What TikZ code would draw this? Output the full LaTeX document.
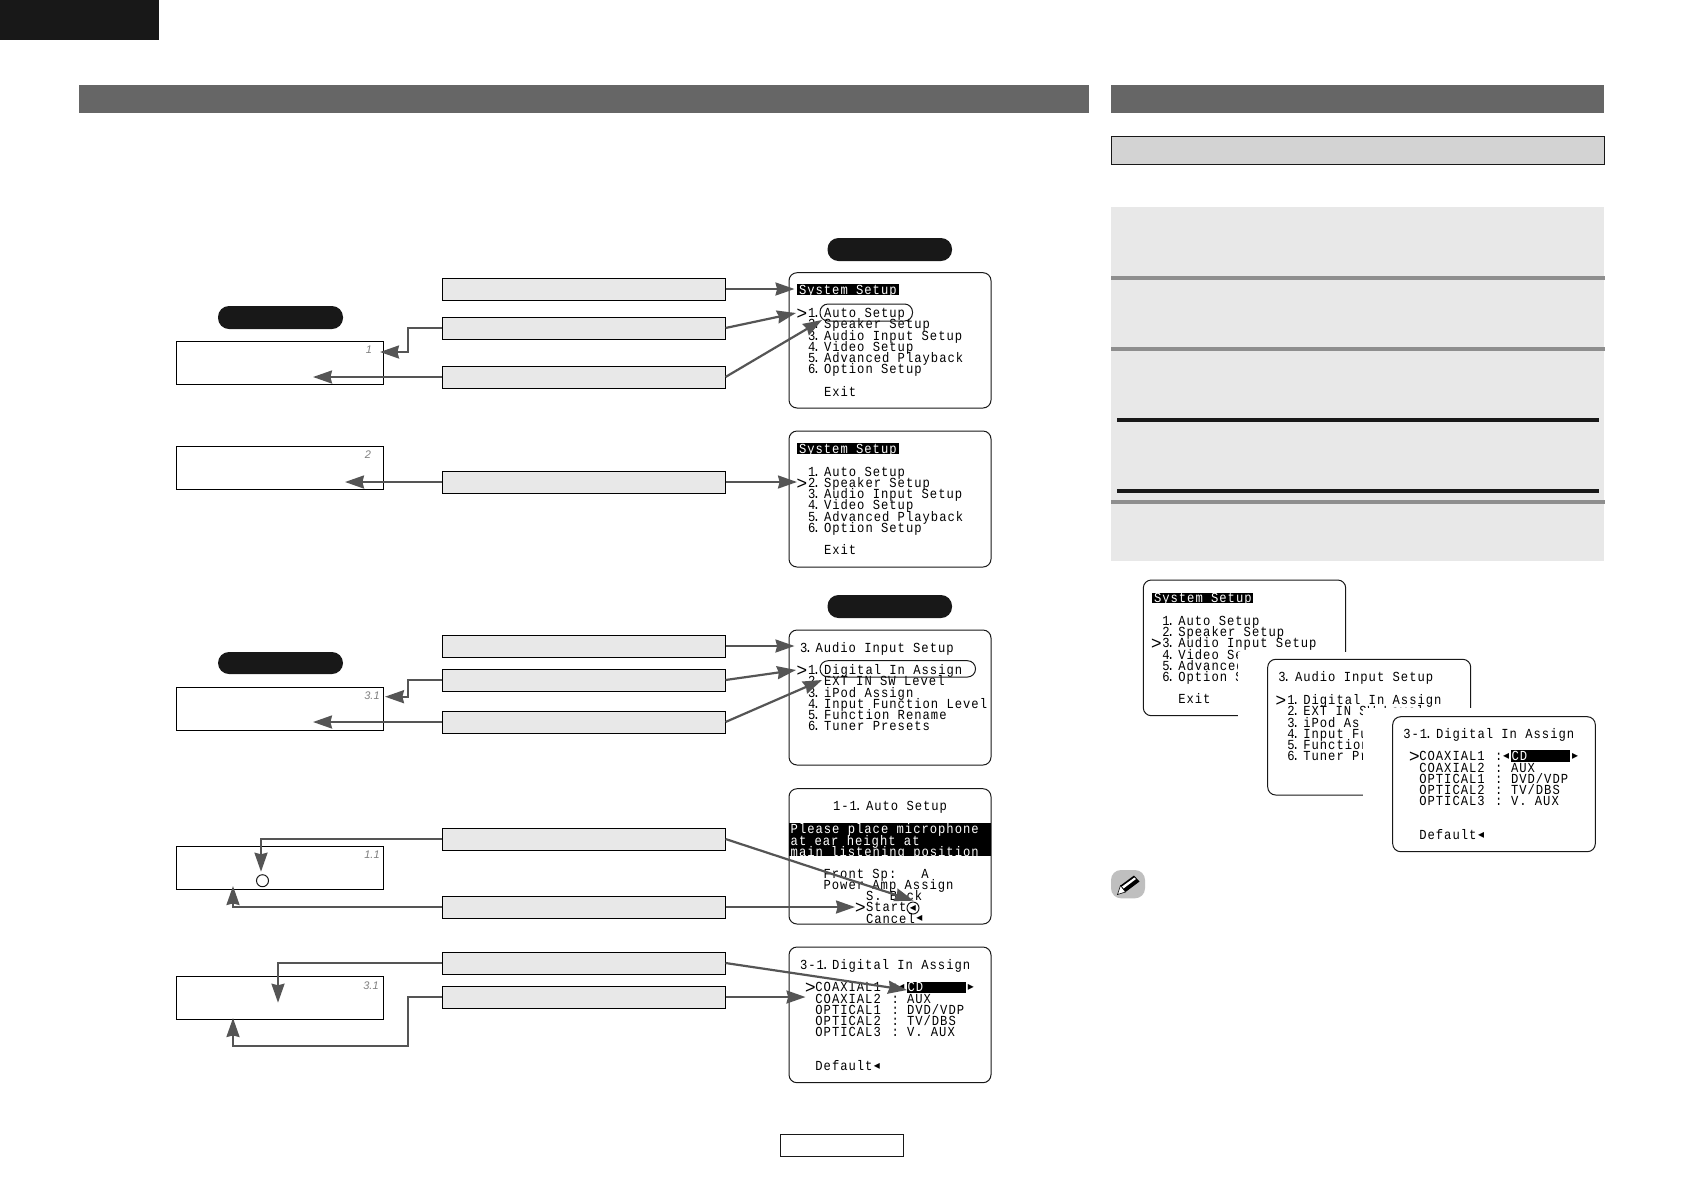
\documentclass[tikz,border=0pt]{standalone}
\usepackage{fontspec}
\usetikzlibrary{arrows.meta}
\newfontfamily\scrfont[FakeStretch=0.88,LetterSpace=7.2]{Liberation Mono}
\newfontfamily\lcdfont{Liberation Sans}
\newfontfamily\symfont{DejaVu Sans}
\definecolor{bar}{HTML}{666666}
\definecolor{pale}{HTML}{E8E8E8}
\definecolor{midgrey}{HTML}{D3D3D3}
\definecolor{ink}{HTML}{181818}
\definecolor{rule}{HTML}{8E8E8E}
\definecolor{arrowc}{HTML}{555555}
\newcommand\bx[6]{%
  \pgfmathsetmacro\bxx{(#3+#5)/2}\pgfmathsetmacro\bxy{(#4+#6)/2}%
  \pgfmathsetmacro\bxw{(#5-#3)*0.5}\pgfmathsetmacro\bxh{(#6-#4)*0.5}%
  \node[#1,minimum width=\bxw pt,minimum height=\bxh pt] (#2) at (\bxx,\bxy) {};}
\newcommand\ml[4]{\node[scr] (#1) at (#2,#3) {#4};}
\newcommand\mlw[4]{\node[scr,text=white] (#1) at (#2,#3) {#4};}
\newcommand\chev[3]{\node[chevron] (#1) at (#2,#3) {>};}
\newcommand\lf[3]{\node[tri] (#1) at (#2,#3) {◂};}
\newcommand\rt[3]{\node[tri] (#1) at (#2,#3) {▸};}
\newcommand\dt{\kern-1.2pt.}
\tikzset{
  plain/.style={rectangle,inner sep=0,outer sep=0},
  sbar/.style={plain,fill=bar},
  ruleb/.style={plain,fill=rule},
  inkb/.style={plain,fill=ink},
  blk/.style={plain,fill=black},
  panel/.style={plain,fill=pale},
  head/.style={plain,fill=midgrey,draw=ink,line width=0.5pt},
  keyb/.style={plain,fill=pale,draw=black,line width=0.5pt},
  lcd/.style={plain,fill=white,draw=black,line width=0.5pt},
  pill/.style={plain,fill=ink,rounded corners=5.5pt},
  screen/.style={plain,fill=white,draw=ink,line width=0.5pt,rounded corners=4pt},
  mask/.style={plain,fill=white},
  hoop/.style={plain,draw=ink,line width=0.5pt,rounded corners=4pt},
  pagebox/.style={plain,fill=white,draw=ink,line width=0.5pt},
  scr/.style={inner sep=0,outer sep=0,anchor=base west,yshift=-2.25pt,font=\scrfont\fontsize{6.92}{7}\selectfont,text=black},
  chevron/.style={inner sep=0,outer sep=0,anchor=base west,yshift=-3pt,font=\lcdfont\fontsize{9}{9}\selectfont,text=black},
  tri/.style={inner sep=0,outer sep=0,anchor=center,font=\symfont\fontsize{6}{6}\selectfont,text=black},
  digit/.style={inner sep=0,outer sep=0,anchor=center,font=\lcdfont\itshape\fontsize{5.5}{6}\selectfont,text=black!50},
  arr/.style={draw=arrowc,line width=1.1pt,-{Stealth[length=9.5pt,width=6.5pt,inset=0.8pt]}},
  hole/.style={draw=ink,line width=0.5pt,fill=white,circle,inner sep=0,outer sep=0,minimum size=6pt},
}
\begin{document}
\begin{tikzpicture}[x=0.5pt,y=-0.5pt]
\useasboundingbox (0,0) rectangle (1682,1190);
\fill[white] (0,0) rectangle (1682,1190);
% page furniture
\bx{inkb}{corner}{0}{0}{159}{40}
\bx{sbar}{barL}{79}{85}{1089}{113}
\bx{sbar}{barR}{1111}{85}{1604}{113}
\bx{head}{headR}{1111.5}{136}{1604.5}{164}
\bx{panel}{panelR}{1111}{207}{1604}{561}
\bx{ruleb}{r1}{1111}{276}{1605}{280}
\bx{ruleb}{r2}{1111}{347}{1605}{351}
\bx{inkb}{r3}{1117}{418}{1599}{422}
\bx{inkb}{r4}{1117}{489}{1599}{493}
\bx{ruleb}{r5}{1111}{500}{1605}{504}
\bx{pagebox}{pageno}{780.5}{1134.5}{903}{1156}
% pills
\bx{pill}{pillA}{827.5}{238}{952}{261}
\bx{pill}{pillB}{218}{306}{343}{329}
\bx{pill}{pillC}{827.5}{595}{952}{618}
\bx{pill}{pillD}{218}{652}{343}{674}
% LCD windows
\bx{lcd}{lcdA}{176.5}{341.5}{383.5}{384}
\bx{lcd}{lcdB}{176.5}{446.5}{383.5}{489}
\bx{lcd}{lcdC}{176.5}{687.5}{383.5}{730}
\bx{lcd}{lcdD}{176.5}{846.5}{383.5}{889}
\bx{lcd}{lcdE}{176.5}{976.5}{383.5}{1019}
\node[digit] (dA) at (369,350) {1};
\node[digit] (dB) at (368,455) {2};
\node[digit] (dC) at (372,696) {3.1};
\node[digit] (dD) at (372,855) {1.1};
\node[digit] (dE) at (371,986) {3.1};
\node[hole] (hole) at (262.5,880.7) {};
% key boxes
\bx{keyb}{k1}{442}{278}{725.5}{300}
\bx{keyb}{k2}{442}{317}{725.5}{339}
\bx{keyb}{k3}{442}{366}{725.5}{388}
\bx{keyb}{k4}{442}{471}{725.5}{493}
\bx{keyb}{k5}{442}{635}{725.5}{657}
\bx{keyb}{k6}{442}{669}{725.5}{691}
\bx{keyb}{k7}{442}{711}{725.5}{733}
\bx{keyb}{k8}{442}{828}{725.5}{850}
\bx{keyb}{k9}{442}{896}{725.5}{918}
\bx{keyb}{k10}{442}{952}{725.5}{974}
\bx{keyb}{k11}{442}{986}{725.5}{1008}
% screen A
\bx{screen}{sA}{789}{272.7}{991}{408}
\bx{blk}{tA}{797}{284}{899}{295}
\mlw{a0}{799}{290}{System Setup}
\chev{ac}{796.5}{313}
\ml{a1n}{808}{313}{1\dt}\ml{a1}{824}{313}{Auto Setup}
\ml{a2n}{808}{324}{2\dt}\ml{a2}{824}{324}{Speaker Setup}
\ml{a3n}{808}{336}{3\dt}\ml{a3}{824}{336}{Audio Input Setup}
\ml{a4n}{808}{347}{4\dt}\ml{a4}{824}{347}{Video Setup}
\ml{a5n}{808}{358}{5\dt}\ml{a5}{824}{358}{Advanced Playback}
\ml{a6n}{808}{369}{6\dt}\ml{a6}{824}{369}{Option Setup}
\ml{a7}{824}{392}{Exit}
\bx{hoop}{hA}{820}{304}{912.5}{321}
% screen B
\bx{screen}{sB}{789}{431}{991}{567}
\bx{blk}{tB}{797}{443}{899}{454}
\mlw{b0}{799}{449}{System Setup}
\chev{bc}{796.5}{483}
\ml{b1n}{808}{471.7}{1\dt}\ml{b1}{824}{471.7}{Auto Setup}
\ml{b2n}{808}{483}{2\dt}\ml{b2}{824}{483}{Speaker Setup}
\ml{b3n}{808}{494.3}{3\dt}\ml{b3}{824}{494.3}{Audio Input Setup}
\ml{b4n}{808}{505.3}{4\dt}\ml{b4}{824}{505.3}{Video Setup}
\ml{b5n}{808}{516.7}{5\dt}\ml{b5}{824}{516.7}{Advanced Playback}
\ml{b6n}{808}{528}{6\dt}\ml{b6}{824}{528}{Option Setup}
\ml{b7}{824}{550.3}{Exit}
% screen C
\bx{screen}{sC}{789}{630}{991}{765}
\ml{c0n}{800}{648}{3\dt}\ml{c0}{815.5}{648}{Audio Input Setup}
\chev{cc}{796.5}{670}
\ml{c1n}{808}{670}{1\dt}\ml{c1}{824}{670}{Digital In Assign}
\ml{c2n}{808}{681}{2\dt}\ml{c2}{824}{681}{EXT IN SW Level}
\ml{c3n}{808}{693}{3\dt}\ml{c3}{824}{693}{iPod Assign}
\ml{c4n}{808}{704}{4\dt}\ml{c4}{824}{704}{Input Function Level}
\ml{c5n}{808}{715}{5\dt}\ml{c5}{824}{715}{Function Rename}
\ml{c6n}{808}{726}{6\dt}\ml{c6}{824}{726}{Tuner Presets}
\bx{hoop}{hC}{820}{660.7}{975.5}{677}
% screen D
\bx{screen}{sD}{789}{788.7}{991}{924}
\ml{d0n}{833}{806}{1-1\dt}\ml{d0}{866}{806}{Auto Setup}
\bx{blk}{tD}{789}{823}{991}{855.7}
\mlw{d1}{790.7}{829}{Please place microphone}
\mlw{d2}{790.7}{841}{at ear height at}
\mlw{d3}{790.7}{852}{main listening position}
\ml{d4}{823.6}{874}{Front Sp:\ \ \ A}
\ml{d5}{823.6}{885.3}{Power Amp Assign}
\ml{d6}{866}{896.3}{S. Back}
\chev{dc}{855}{907.3}
\ml{d7}{866}{907.3}{Start}
\lf{dl1}{913}{908}
\node[draw=ink,line width=0.5pt,circle,inner sep=0,outer sep=0,minimum size=6pt] (dring) at (913,908) {};
\ml{d8}{866}{918.7}{Cancel}
\lf{dl2}{919.5}{918.7}
% screen E
\bx{screen}{sE}{789}{947}{991}{1082.7}
\ml{e0n}{800}{965.3}{3-1\dt}\ml{e0}{832}{965.3}{Digital In Assign}
\chev{ec}{805}{987.3}
\ml{e1}{815.4}{987.3}{COAXIAL1}\ml{e1c}{891.5}{987.3}{:}
\lf{el}{901.5}{987.3}
\bx{blk}{eb}{907}{981.7}{966}{992.7}
\mlw{e1v}{907.5}{987.3}{CD}
\rt{er}{971}{987.3}
\ml{e2}{815.4}{998.7}{COAXIAL2}\ml{e2c}{891.5}{998.7}{:}\ml{e2v}{907}{998.7}{AUX}
\ml{e3}{815.4}{1010}{OPTICAL1}\ml{e3c}{891.5}{1010}{:}\ml{e3v}{907}{1010}{DVD/VDP}
\ml{e4}{815.4}{1021}{OPTICAL2}\ml{e4c}{891.5}{1021}{:}\ml{e4v}{907}{1021}{TV/DBS}
\ml{e5}{815.4}{1032.3}{OPTICAL3}\ml{e5c}{891.5}{1032.3}{:}\ml{e5v}{907}{1032.3}{V. AUX}
\ml{e6}{815.4}{1066}{Default}
\lf{el2}{877}{1066}
% right column stack: screen F
\bx{screen}{sF}{1143.3}{580}{1345.7}{715.7}
\bx{blk}{tF}{1152.3}{592.7}{1252.7}{603}
\mlw{f0}{1154}{598}{System Setup}
\chev{fc}{1151}{643.3}
\ml{f1n}{1162.3}{620.7}{1\dt}\ml{f1}{1178.3}{620.7}{Auto Setup}
\ml{f2n}{1162.3}{632}{2\dt}\ml{f2}{1178.3}{632}{Speaker Setup}
\ml{f3n}{1162.3}{643.3}{3\dt}\ml{f3}{1178.3}{643.3}{Audio Input Setup}
\ml{f4n}{1162.3}{654.7}{4\dt}\ml{f4}{1178.3}{654.7}{Video Se}
\ml{f5n}{1162.3}{666}{5\dt}\ml{f5}{1178.3}{666}{Advanced}
\ml{f6n}{1162.3}{677}{6\dt}\ml{f6}{1178.3}{677}{Option Se}
\ml{f7}{1178.3}{699.3}{Exit}
\bx{mask}{maskF}{1238.3}{651.7}{1480}{810}
% screen G
\bx{screen}{sG}{1267.7}{659.3}{1470.7}{795}
\ml{g0n}{1278.3}{677.3}{3\dt}\ml{g0}{1295}{677.3}{Audio Input Setup}
\chev{gc}{1275.5}{700}
\ml{g1n}{1287.3}{700}{1\dt}\ml{g1}{1303.3}{700}{Digital In Assign}
\ml{g2n}{1287.3}{711.3}{2\dt}\ml{g2}{1303.3}{711.3}{EXT IN SW Level}
\ml{g3n}{1287.3}{722.7}{3\dt}\ml{g3}{1303.3}{722.7}{iPod As}
\ml{g4n}{1287.3}{733.7}{4\dt}\ml{g4}{1303.3}{733.7}{Input Fu}
\ml{g5n}{1287.3}{745}{5\dt}\ml{g5}{1303.3}{745}{Function}
\ml{g6n}{1287.3}{756}{6\dt}\ml{g6}{1303.3}{756}{Tuner Pr}
\bx{mask}{maskG}{1363.3}{708.3}{1600}{860}
% screen H
\bx{screen}{sH}{1392.7}{716.7}{1595.3}{851.7}
\ml{h0n}{1403.3}{734}{3-1\dt}\ml{h0}{1436}{734}{Digital In Assign}
\chev{hc}{1409}{756}
\ml{h1}{1419.3}{756}{COAXIAL1}\ml{h1c}{1495}{756}{:}
\lf{hl}{1506}{756}
\bx{blk}{hb}{1511}{750.3}{1570}{762}
\mlw{h1v}{1511.5}{756}{CD}
\rt{hr}{1575}{756}
\ml{h2}{1419.3}{767.7}{COAXIAL2}\ml{h2c}{1495}{767.7}{:}\ml{h2v}{1511}{767.7}{AUX}
\ml{h3}{1419.3}{779}{OPTICAL1}\ml{h3c}{1495}{779}{:}\ml{h3v}{1511}{779}{DVD/VDP}
\ml{h4}{1419.3}{790}{OPTICAL2}\ml{h4c}{1495}{790}{:}\ml{h4v}{1511}{790}{TV/DBS}
\ml{h5}{1419.3}{801.3}{OPTICAL3}\ml{h5c}{1495}{801.3}{:}\ml{h5v}{1511}{801.3}{V. AUX}
\ml{h6}{1419.3}{835}{Default}
\lf{hl2}{1481}{835}
% pencil icon
\bx{plain,fill=black!25,rounded corners=5pt}{note}{1111}{870}{1145}{898.3}
\fill[black] (1120.5,885.5) -- (1134,875.5) -- (1139.5,881.5) -- (1125.5,892) -- cycle;
\fill[white] (1122,886.5) -- (1134.5,877.5) -- (1136,879) -- (1123.5,888.5) -- cycle;
\fill[white,draw=black,line width=0.3pt] (1120.5,885.5) -- (1125.5,892) -- (1117.5,894.5) -- cycle;
% arrow ends
\coordinate (t1) at (794.5,289);
\coordinate (t2) at (796,313);
\coordinate (t3) at (822,320);
\coordinate (u2) at (408,352);
\coordinate (u2t) at (380,352);
\coordinate (u3t) at (313,377);
\coordinate (t4) at (797,482);
\coordinate (u4t) at (345,482);
\coordinate (t5) at (794.5,646);
\coordinate (t6) at (796,670);
\coordinate (t7) at (822,680);
\coordinate (u6) at (408,696.7);
\coordinate (u6t) at (385,696.7);
\coordinate (u7t) at (313,722);
\coordinate (u8) at (261,839);
\coordinate (u8t) at (261,871.7);
\coordinate (u9) at (233,907);
\coordinate (u9t) at (233,886);
\coordinate (t8) at (913.6,900.7);
\coordinate (t9) at (855,907);
\coordinate (u10) at (278,963);
\coordinate (u10t) at (278,1002.7);
\coordinate (u11) at (408,1046);
\coordinate (u11b) at (233,1046);
\coordinate (u11t) at (233,1018);
\coordinate (t10) at (907,990);
\coordinate (t11) at (805.5,997);
% connectors
\draw[arr] (k1.east) -- (t1);
\draw[arr] (k2.east) -- (t2);
\draw[arr] (k3.east) -- (t3);
\draw[arr] (k2.west) -| (u2) -- (u2t);
\draw[arr] (k3.west) -- (u3t);
\draw[arr] (k4.east) -- (t4);
\draw[arr] (k4.west) -- (u4t);
\draw[arr] (k5.east) -- (t5);
\draw[arr] (k6.east) -- (t6);
\draw[arr] (k7.east) -- (t7);
\draw[arr] (k6.west) -| (u6) -- (u6t);
\draw[arr] (k7.west) -- (u7t);
\draw[arr] (k8.west) -| (u8t);
\draw[arr] (k9.west) -| (u9t);
\draw[arr] (k8.east) -- (t8);
\draw[arr] (k9.east) -- (t9);
\draw[arr] (k10.west) -| (u10t);
\draw[arr] (k11.west) -| (u11) -- (u11b) -- (u11t);
\draw[arr] (k10.east) -- (t10);
\draw[arr] (k11.east) -- (t11);
\end{tikzpicture}
\end{document}
